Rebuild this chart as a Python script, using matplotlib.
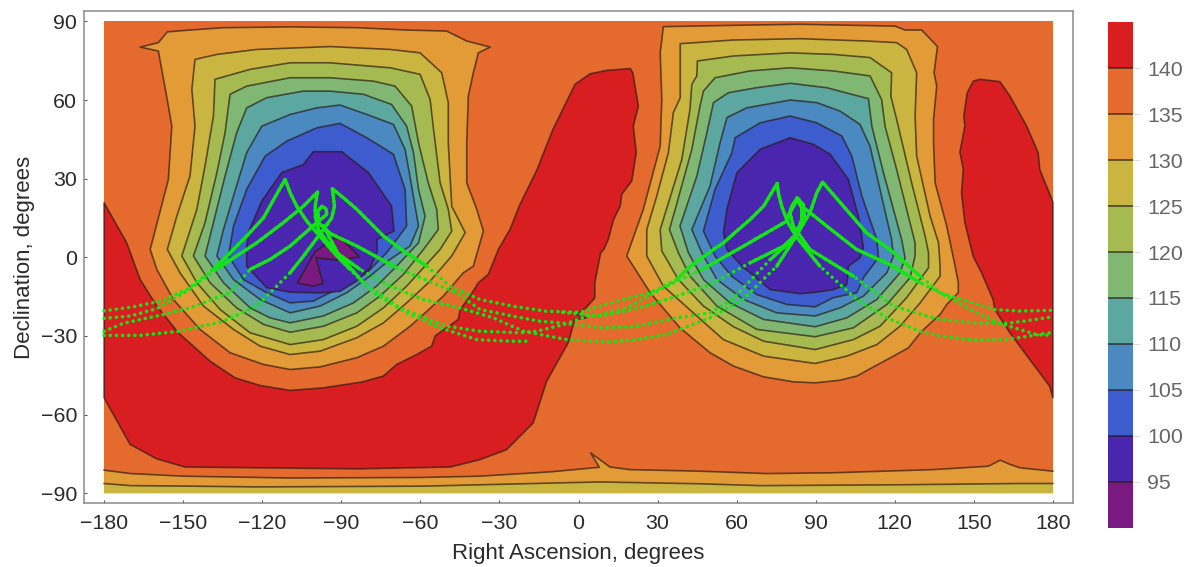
#!/usr/bin/env python3
# -*- coding: utf-8 -*-
import numpy as np
import matplotlib
matplotlib.use('Agg')
import matplotlib.pyplot as plt

plt.rcParams['font.family'] = ['Liberation Sans', 'DejaVu Sans']

# colour bar
bar_levels = [90, 95, 100, 105, 110, 115, 120, 125, 130, 135, 140, 145]
bar_colors = ['#7a1a80', '#4a25ae', '#3d5ccd', '#4a8ac1', '#5ca8a0', '#80b873',
              '#a5bb52', '#c9b53f', '#e39b38', '#e56a2d', '#d91e22']

ra_ticks = list(range(-180, 181, 30))
dec_ticks = list(range(-90, 91, 30))

# contours, (RA, Dec) in degrees
red_west = [(-180, 20.8), (-171.4, 5.5), (-166.3, -8.5), (-160, -18.6), (-151.8, -28.8), (-139.8, -39.6),
            (-130.3, -46), (-120.8, -48.9), (-109.4, -50.8), (-96.8, -49.8), (-82.2, -47.6), (-74, -45.3),
            (-69, -40.9), (-61.4, -37.1), (-55.7, -33.9), (-54.4, -30), (-45.6, -23.7), (-44.9, -19.9),
            (-41.1, -14.8), (-38, -9.7), (-34.2, -6.5), (-30.4, 3), (-26, 10.6), (-22.2, 20.2), (-15.7, 33.5),
            (-9.7, 48.8), (-1.3, 66), (4.4, 70), (10.7, 71.3), (19.6, 72), (20.6, 70.4), (22.7, 57.7), (20.8, 50),
            (21.9, 39.9), (20.2, 29.1), (16.4, 24), (15.8, 19.5), (13.3, 14.4), (11.3, 6.8), (9.6, 3), (8.4, 1.7),
            (6.2, -9.7), (6.2, -15.5), (2.8, -19.3), (-0.7, -21.8), (3, -23.1), (-1.4, -23.7), (-3.9, -32.6),
            (-12.1, -47.3), (-17.2, -63.2), (-27.3, -73.4), (-37.4, -77.2), (-48.7, -80), (-84, -80.7),
            (-149.3, -80), (-160, -76.9), (-170.1, -71.4), (-180, -53.6)]
red_east = [(149.8, 67.2), (152.3, 67.9), (159.9, 67), (163.7, 61.5), (170, 50.1), (174.4, 39.9), (175, 33.5),
            (180, 21), (180, -53.6), (178.8, -49.2), (171.2, -39), (163.7, -28.8), (158, -20), (157.3, -16.1),
            (152.9, -5.9), (149.7, 0.5), (146.6, 13.2), (145.3, 24.6), (146, 33.5), (144.7, 40.1), (146.6, 50.1),
            (146.2, 53.9), (147.5, 62.8)]

west_135 = [(-166.3, 80.2), (-159.4, 81.9), (-156, 86), (-147.4, 86.7), (-134.7, 87.6), (-109.4, 87.9), (-84.1, 87.6),
            (-65.2, 86.7), (-50, 86.3), (-42.4, 82.5), (-33.5, 80.2), (-38, 78), (-39.9, 70.4), (-41.8, 61.5),
            (-42.4, 43.7), (-42.4, 28.4), (-38.6, 18.3), (-36.1, 10), (-39.9, -3.4), (-43.7, -5.9), (-51.3, -14.8),
            (-58.2, -21.2), (-63.9, -26.3), (-74, -33.9), (-84.1, -38.3), (-98, -41.8), (-109.4, -42.8),
            (-119.5, -40.9), (-132.2, -36.4), (-143.6, -27.5), (-153.7, -16.1), (-160, -4.6), (-162.5, 3),
            (-155.6, 29.7), (-154.3, 50), (-155.6, 57.7), (-159.4, 78.7)]
west_130 = [(-145.5, 75.5), (-137.2, 77.4), (-122.1, 79.3), (-94.3, 80.4), (-71.5, 79.3), (-60.1, 78), (-51.9, 70.4),
            (-49.4, 59), (-49.4, 43.7), (-48.1, 19.5), (-43, 9.4), (-48.1, 0.5), (-56.3, -9.1), (-65.2, -17.4),
            (-74, -25), (-84.1, -30.7), (-98, -35.8), (-109.4, -37.1), (-120.8, -33.9), (-130.9, -27.5),
            (-142.3, -18.6), (-151.2, -5.9), (-156, 3), (-152.4, 15.7), (-147.4, 31), (-145.5, 50), (-146.7, 64.1)]
west_125 = [(-137.9, 67.9), (-124.6, 71.7), (-109.4, 74.2), (-94.3, 74.2), (-71.5, 72.3), (-60.1, 69.8), (-56.3, 60.2),
            (-55, 48.8), (-52.5, 28.4), (-49.4, 18.3), (-48.1, 10), (-52.5, 3), (-65.2, -11), (-74, -19.3),
            (-84.1, -26.3), (-96.8, -31.4), (-109.4, -33.3), (-124.6, -28.8), (-136, -19.9), (-144.8, -9.7),
            (-150.5, 0.5), (-144.8, 18.3), (-141.7, 34.8), (-138.5, 53.9)]
west_120 = [(-132.2, 62.2), (-125.9, 65.3), (-109.4, 68.5), (-94.3, 68.5), (-77.8, 67.2), (-69.6, 65.3), (-63.3, 57.7),
            (-60.7, 43.7), (-57, 28.4), (-53.8, 18.3), (-53.2, 10.6), (-58.8, 3), (-66.4, -6.5), (-75.3, -14.8),
            (-84.1, -21.2), (-96.8, -26.3), (-109.4, -28.6), (-119.5, -25.6), (-129.7, -19.3), (-139.8, -9.7),
            (-146.1, 0.5), (-141.7, 13.2), (-137.2, 32.3), (-134.1, 47.5)]
west_115 = [(-125.9, 57), (-118.3, 60.9), (-104.4, 63.4), (-94.3, 63.4), (-81.6, 62.2), (-70.9, 58.3), (-65.2, 50),
            (-62.6, 39.9), (-60.7, 25.9), (-58.2, 15.7), (-60.7, 5.5), (-69, -3.4), (-76.6, -11), (-85.4, -17.4),
            (-96.8, -22.4), (-109.4, -25), (-117, -23.1), (-124.6, -19.3), (-134.7, -9.7), (-141.7, 0.5),
            (-137.9, 15.7), (-134.1, 31), (-129.7, 47.5)]
west_110 = [(-120.2, 50), (-109.4, 54.5), (-99.3, 57), (-90.5, 58.1), (-80.3, 54.5), (-70.2, 50.7), (-65.8, 41.2),
            (-63.3, 27.2), (-60.7, 11.9), (-63.9, 4.3), (-71.5, -0.8), (-79.1, -7.2), (-87.9, -13.5), (-98, -18.6),
            (-109.4, -21.2), (-120.8, -16.1), (-130.9, -8.5), (-137.2, 0.5), (-134.7, 10.6), (-130.9, 23.4),
            (-125.9, 39.9)]
west_105 = [(-118.9, 38.6), (-110.7, 44.3), (-99.3, 49.4), (-90.5, 51.1), (-80.3, 45.6), (-70.2, 39.3), (-65.8, 25.9),
            (-65.2, 11.9), (-72.8, 1.7), (-74, 0.5), (-80.3, -5.9), (-90.5, -11.6), (-100.6, -16.7), (-109.4, -17.4),
            (-118.3, -13.5), (-127.1, -8.5), (-132.8, 0.5), (-130.9, 11.9), (-125.9, 25.9)]
west_100 = [(-100.6, 40.3), (-89.8, 40.3), (-79.7, 32.3), (-70.9, 19.5), (-70, 10), (-76.5, 6.8), (-76.3, 2.4),
            (-79, -4), (-84, -9), (-90.5, -13), (-98, -13.6), (-109.4, -13.3), (-118.3, -11.6), (-125.9, -3.4),
            (-125.9, 3.6), (-125, 10), (-120.2, 21.4), (-112.6, 32.3), (-104.4, 35.4)]
west_95 = [(-91.1, 8.4), (-83.1, 0.2), (-91.1, -1.1), (-99.6, -0.2), (-97, -10), (-100.6, -11), (-106.7, -9.8),
           (-100, 2)]

east_135 = [(32.2, 88), (58.8, 88.5), (84.1, 88.9), (120.1, 88.2), (123.9, 86.7), (130.2, 86.7), (136.2, 80.4),
            (134.9, 70.4), (135.9, 65.3), (134.7, 52.6), (134.7, 43.7), (135.3, 28.4), (139.7, 11.9), (142.9, -3.4),
            (144.1, -9.7), (144.1, -13.5), (139.7, -18), (137.2, -21.8), (130.2, -28.2), (125.2, -34.5),
            (119.5, -37.7), (112.5, -41.5), (105.6, -45.3), (99.2, -46.9), (89.8, -47.9), (81.5, -47.5),
            (70.2, -45.6), (58.8, -41.5), (49.9, -36.4), (38.5, -26.9), (27.2, -13.5), (18.3, 0.5), (24.6, 18.3),
            (31, 42.4), (31.6, 60.2), (31, 78.1)]
east_130 = [(38.6, 81.5), (58.8, 82.9), (84.1, 83.4), (109.4, 82.5), (120.7, 81.9), (124.5, 79.3), (128.3, 70.4),
            (127.7, 53.9), (128.3, 38.6), (133.4, 15.7), (136.6, 5.5), (137.2, -3.4), (137.2, -7.2), (129.6, -17.4),
            (122, -26.3), (113.2, -33.3), (101.8, -37.7), (89.8, -40.5), (70.2, -37.7), (55, -31.4), (44.9, -22.4),
            (32.2, -11), (25.9, 0.5), (25.9, 10.6), (29.7, 23.4), (34.1, 39.9), (36, 55.2), (38.6, 60.9)]
east_125 = [(45.1, 74.9), (58.8, 76.8), (80.3, 78), (96.7, 77.4), (110.6, 76.2), (118.8, 70.4), (118.5, 61.5),
            (120.7, 52.6), (126.4, 28.4), (131.5, 8.1), (132.8, 1.7), (132.8, -4), (124.5, -15.4), (114.4, -26.3),
            (104.3, -31.4), (89.8, -35.2), (70.2, -32), (58.8, -26.5), (47.4, -18.6), (37.9, -8.5), (31.6, 2.4),
            (31, 10.6), (39.2, 37.3), (42.3, 56.4), (43, 66), (44.9, 69.2)]
east_120 = [(51.8, 68.5), (65.1, 71.1), (80.3, 72.3), (96.7, 71.1), (110.6, 69.2), (115, 60.2), (116.3, 50),
            (120.7, 33.5), (127.7, 5.5), (127.7, 0.5), (125.8, -7.8), (117, -18), (104.3, -26.9), (89.8, -30.3),
            (67.6, -27.5), (52.5, -18.6), (42.3, -7.2), (37.9, 1.7), (34.5, 10.6), (36.7, 18.3), (43, 41.2),
            (46.1, 57.7), (47.4, 63.4)]
east_115 = [(56.9, 62.8), (67.6, 64.7), (80.3, 66.4), (94.2, 64.7), (110, 60.5), (111.3, 50), (115.7, 32.3),
            (122.6, 6.8), (123.9, -0.2), (122, -5.9), (113.2, -16.1), (101.8, -23.1), (89.8, -26.5), (70.2, -23.7),
            (57.5, -17.4), (47.4, -8.5), (41.7, 1.7), (38.5, 11.9), (44.9, 31), (48.7, 47.5), (51.2, 59)]
east_110 = [(63.8, 57), (80.3, 60), (90.4, 59), (99.2, 55.8), (106.8, 50.7), (110.6, 42.4), (114.4, 25.9), (118.8, 6.8),
            (119.5, 0.5), (117, -5.9), (108.1, -14.8), (99.2, -19.3), (89.8, -22.4), (75.2, -21.2), (62.6, -16.1),
            (52.5, -8.5), (46.8, 1.7), (43, 10.6), (49.9, 27.2), (53.7, 43.7), (56.3, 53.3)]
east_105 = [(68.9, 51.3), (80.3, 53.9), (90.4, 51.3), (99.9, 46.3), (103.7, 38.6), (107.5, 23.4), (113.2, 6.8),
            (113.8, -0.2), (108.1, -7.8), (105.6, -13.5), (96.7, -15.4), (89.8, -18.9), (79, -18), (67.6, -14.2),
            (58.1, -7.2), (51.8, 0.5), (47.4, 10), (51.8, 25.9), (58.2, 39.9), (59.4, 45.6)]
east_100 = [(68.9, 41.2), (80.3, 45.6), (89.1, 43.1), (95.5, 39.3), (102.4, 29.7), (106.2, 15.7), (108.1, 3.6),
            (106.8, -0.2), (102.4, -3.4), (101.8, -10.4), (96.7, -12.3), (90.4, -13.3), (84.1, -13.9), (72.7, -12.3),
            (65.1, -5.9), (62.6, -4), (56.3, 3), (55, 9.4), (56.3, 18.3), (60.1, 32.3)]

# the two bands along the bottom edge
band_135 = [(-180, -81.2), (-170, -82.5), (-150, -83.5), (-109.4, -84.2), (-60, -84), (-37.4, -83.5), (-10, -81.8),
            (7.9, -80.1), (4.6, -74.6), (11.9, -80), (19.5, -81), (46, -81.6), (71.4, -82.5),
            (96.7, -82.2), (134.6, -81), (155.5, -79.7), (160, -77.4), (163.7, -79), (167.5, -80.3), (180, -81.6)]
band_130 = [(-180, -86.3), (-170, -87.1), (-147, -87.3), (-122, -87.6), (-59, -87.3), (8, -85.7), (46, -86.4),
            (69, -87.1), (120, -86.8), (167, -86.3), (180, -86.3)]

# green tracks, (RA, Dec) in degrees
track_a = [(-180, -20.4), (-178.3, -20.2), (-168.9, -18.9), (-158.7, -16.7), (-148.6, -12.3), (-138.5, -4.6),
           (-132.2, 1.7), (-125.9, 8.1), (-119.5, 15.1), (-114.9, 23.4), (-111.3, 29.7), (-109.4, 24.6), (-106.9, 19.5),
           (-103.1, 13.8), (-99.3, 9.4), (-91.7, 0.5), (-86.7, -4.6), (-77.8, -13.5), (-65.2, -21.2), (-52.5, -26.9),
           (-38.6, -31.4), (-26, -32), (-19, -32)]
track_b = [(-180, -23.3), (-170.1, -22.4), (-160, -19.6), (-148.6, -12.9), (-136.6, -4), (-122.1, 5.5), (-112, 13.2),
           (-104.4, 19.5), (-99, 24.9), (-99.9, 19.5), (-99.8, 15.1), (-98.7, 10.6), (-95.5, 6.2), (-91.7, 1.7),
           (-82.9, -4.6), (-71.5, -11), (-58.9, -16.1), (-45, -19.3), (-32.3, -23.1), (-20.9, -28.2), (-4.5, -31.4),
           (10.7, -32.3), (20.8, -31.6), (33.5, -29.4), (49.9, -23.1), (62.4, -16.1), (75.2, -3.4), (82.5, 8),
           (85.9, 14.4), (85.3, 20.1), (83, 22.7)]
track_c = [(-180, -28.2), (-172.7, -25.2), (-160, -22.4), (-147.4, -19.3), (-132.2, -13.5), (-124.6, -4.6), (-117, -0.8),
           (-109.4, 4.3), (-99.3, 13.2), (-95.5, 16.4), (-95.8, 18.5), (-97.4, 19.5), (-98.9, 17.5), (-98.5, 13),
           (-94, 9), (-84.1, 4.3), (-69, -4), (-46.2, -13.6), (-37.4, -19.9), (-24.7, -22.5), (-14.6, -24.4),
           (-7, -25), (4.4, -26.3), (8.2, -26.9), (20.8, -26.5), (37.3, -23.1), (49.9, -21.2), (58.3, -16.1),
           (72.7, -0.9), (82.5, 8), (87.8, 17), (90.4, 24.6), (92.6, 28.7), (96.1, 24.6), (100.5, 19.5), (109.3, 9.3),
           (118.2, 2.9), (129.6, -7.2), (137.1, -13.5), (147.2, -16.7), (157.3, -19.9), (167.4, -20.5), (180, -20.2)]
track_d = [(-180, -29.8), (-166.3, -29.8), (-151.2, -28.2), (-134.7, -24.4), (-122.1, -18.6), (-109.4, -5.9),
           (-104.4, 0.4), (-100.6, 5.5), (-96.8, 10.6), (-93.6, 15.1), (-92.6, 19.5), (-93.4, 26.2), (-89.2, 22.7),
           (-84.1, 18.3), (-74, 8.1), (-66.4, 2.4), (-57.6, -3.4), (-48.7, -11), (-37.4, -16.1), (-24.7, -18.7),
           (-12.1, -20.6), (0.6, -21), (8.2, -18.6), (17, -16.1), (27.2, -13.5), (37.3, -8.5), (41.7, -4), (51.2, 3),
           (55, 5.5), (60, 10), (65.1, 14.4), (70.2, 19.5), (75.4, 28.2), (75.8, 24.6), (77.1, 19.5), (79.2, 13.8),
           (82.5, 8), (91.6, -3.4), (105.6, -16.1), (117, -23.1), (129.6, -28.2), (137.1, -30), (149.7, -31.6),
           (162.4, -31.4), (178.8, -28.8), (180, -28.6)]
track_e = [(-96.8, 12), (-91, 1), (-81.6, -9.7), (-67.7, -19.3), (-50, -26.3), (-37.4, -28.2), (-22.2, -28.8),
           (-15.9, -28.2), (-5.8, -25.7), (3.1, -22.5), (8.2, -21.8), (18.3, -19.3), (33.5, -11), (48, -4), (62.5, 4.2),
           (79, 13.8), (80.9, 19.5), (83, 22.7), (84, 20.1), (94.2, 11.9), (105.5, 3), (118.2, -2.8), (129.6, -9.7),
           (139.6, -14.8), (149.7, -20.5), (161.1, -25.6), (173.8, -29.5), (180, -29.8)]
track_f = [(-6, -21), (8.2, -22.4), (20.8, -19.9), (33.5, -16.1), (49.9, -10.4), (65.1, -2.1), (77.7, 4.2), (82.5, 8.7),
           (84.7, 14.4), (84.7, 18.9), (83, 22), (80.2, 17), (81.5, 11.9), (87.8, 3), (104.3, -7.2), (119.5, -18.6),
           (135.9, -23.5), (149.7, -25), (162.4, -25.2), (168.7, -24.4), (180, -22.7)]

W, H = 1196.0, 567.0
edge = (0.16, 0.1, 0.07, 0.68)
green = '#12e616'

fig = plt.figure(figsize=(W / 100, H / 100), dpi=100)
ax = fig.add_axes([84.3 / W, 1 - 503.3 / H, 988.4 / W, 492.0 / H])
ax.set_xlim(-187.5, 187.5)
ax.set_ylim(-93.85, 93.85)

# background level, then the nested regions from the outside in
ax.fill([-180, 180, 180, -180], [-90, -90, 90, 90], color=bar_colors[9], lw=0)


def region(points, color):
    xy = np.array(points)
    ax.fill(xy[:, 0], xy[:, 1], facecolor=color, edgecolor=edge, lw=1.2, joinstyle='round')


region(red_west, bar_colors[10])
region(red_east, bar_colors[10])
for shape in [(west_135, east_135, 8), (west_130, east_130, 7), (west_125, east_125, 6), (west_120, east_120, 5),
              (west_115, east_115, 4), (west_110, east_110, 3), (west_105, east_105, 2), (west_100, east_100, 1)]:
    region(shape[0], bar_colors[shape[2]])
    region(shape[1], bar_colors[shape[2]])
region(west_95, bar_colors[0])

for band, color in [(band_135, bar_colors[8]), (band_130, bar_colors[7])]:
    xy = np.array(band)
    ax.fill(np.r_[xy[:, 0], 180, -180], np.r_[xy[:, 1], -90, -90], color=color, lw=0)
    ax.plot(xy[:, 0], xy[:, 1], color=edge, lw=1.2)

# dotted far from the cusps, where the samples get sparse
for track in [track_a, track_b, track_c, track_d, track_e, track_f]:
    xy = np.array(track)
    ax.plot(xy[:, 0], xy[:, 1], color=green, lw=2.6, dash_capstyle='round', linestyle=(0, (0.01, 1.7)))
    ax.plot(xy[:, 0], np.where(xy[:, 1] > -10, xy[:, 1], np.nan), color=green, lw=2.4, solid_capstyle='round')

ax.set_xticks(ra_ticks)
ax.set_yticks(dec_ticks)
ax.tick_params(direction='in', length=2.5, width=0.8, color='#555555', labelsize=15.4, labelcolor='#2b2b2b', pad=5)
ax.tick_params(axis='x', pad=8)
for side in ax.spines.values():
    side.set_color('#8a8a8a')
    side.set_linewidth(1.1)
ax.set_xlabel('Right Ascension, degrees', fontsize=16, color='#2b2b2b', labelpad=7)
ax.set_ylabel('Declination, degrees', fontsize=16, color='#2b2b2b', labelpad=4)

cax = fig.add_axes([1107.7 / W, 1 - 527.7 / H, 25.6 / W, 505.4 / H])
for i in range(len(bar_colors)):
    cax.barh(bar_levels[i], 1, height=bar_levels[i + 1] - bar_levels[i], align='edge', color=bar_colors[i], lw=0)
cax.hlines(bar_levels[1:-1], 0, 1, color=edge, lw=1.3)
cax.set_xlim(0, 1)
cax.set_ylim(90, 145)
cax.set_xticks([])
cax.yaxis.tick_right()
cax.set_yticks(bar_levels[1:-1])
cax.tick_params(axis='y', length=5, width=0.8, color='#dddddd', labelsize=15.4, labelcolor='#666666', pad=5)
for side in cax.spines.values():
    side.set_visible(False)

fig.savefig('out.png', dpi=100)
